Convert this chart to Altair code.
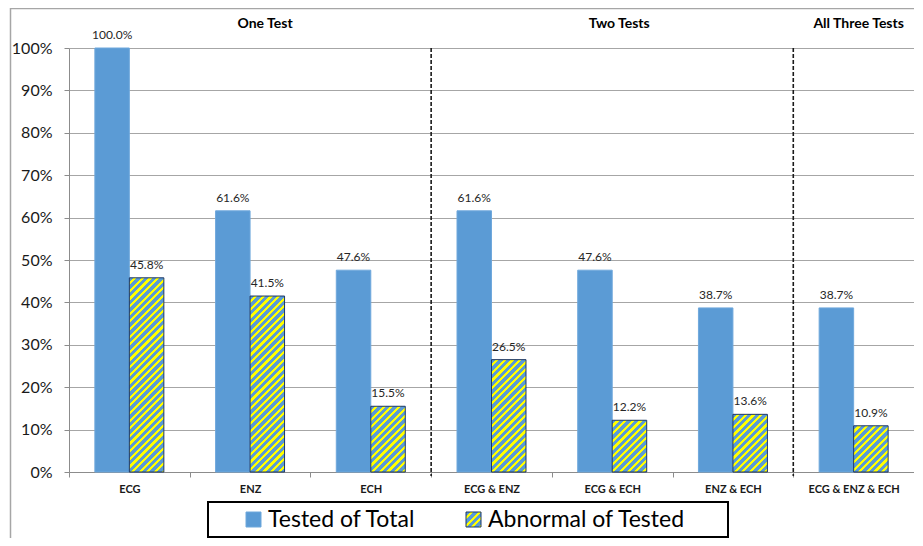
import math
import altair as alt
import pandas as pd

# ---------------- data ----------------
categories = ["ECG", "ENZ", "ECH", "ECG & ENZ", "ECG & ECH", "ENZ & ECH", "ECG & ENZ & ECH"]
tested_of_total = [100.0, 61.6, 47.6, 61.6, 47.6, 38.7, 38.7]
abnormal_of_tested = [45.8, 41.5, 15.5, 26.5, 12.2, 13.6, 10.9]
series_names = ["Tested of Total", "Abnormal of Tested"]
group_titles = ["One Test", "Two Tests", "All Three Tests"]
group_anchor = ["ENZ", "ECG & ECH", "ECG & ENZ & ECH"]
separator_before = ["ECG & ENZ", "ECG & ENZ & ECH"]
y_ticks = list(range(0, 101, 10))

# ---------------- style ----------------
BLUE = "#5B9BD5"
YELLOW = "#FFFF00"
FONT = "Lato"
PLOT_W, PLOT_H = 845, 424
OFFSET_PAD = 0.75
STEP = PLOT_W / len(categories)
BAR_W = STEP / (2 + 2 * OFFSET_PAD)

rows = []
for c, t, a in zip(categories, tested_of_total, abnormal_of_tested):
    rows.append({"cat": c, "series": series_names[0], "value": t})
    rows.append({"cat": c, "series": series_names[1], "value": a})
df = pd.DataFrame(rows)
legend_df = pd.DataFrame({"series": series_names})
groups_df = pd.DataFrame({"title": group_titles, "cat": group_anchor})
sep_df = pd.DataFrame({"cat": separator_before})


def hatch(W, H, period=5.4, frac_yellow=0.42):
    L = (W + H) / math.sqrt(2)
    a = (W + H) / (W * W + H * H)
    stops = []
    n = int(math.ceil(L / period))
    for k in range(n):
        o0 = min(k * period / L, 1)
        o1 = min((k + 1 - frac_yellow) * period / L, 1)
        o2 = min((k + 1) * period / L, 1)
        stops += [(o0, BLUE), (o1, BLUE), (o1, YELLOW), (o2, YELLOW)]
    return alt.LinearGradient(
        gradient="linear",
        stops=[alt.GradientStop(offset=o, color=c) for o, c in stops],
        x1=0, y1=0, x2=a * W, y2=a * H,
    )


x_scale = alt.Scale(domain=categories, paddingInner=0, paddingOuter=0)
x_axis = alt.Axis(
    title=None, labelAngle=0, labelFont=FONT, labelFontWeight="bold", labelFontSize=11,
    labelColor="#1a1a1a", tickBand="extent", tickSize=5, labelPadding=6,
    domainColor="#8c8c8c", tickColor="#8c8c8c", grid=False,
)
y_scale = alt.Scale(domain=[0, 100], nice=False)
y_axis = alt.Axis(
    title=None, values=y_ticks, labelExpr="datum.value + '%'", labelFont=FONT,
    labelFontSize=16, labelColor="#1a1a1a", tickSize=5, labelPadding=12,
    domainColor="#8c8c8c", tickColor="#8c8c8c", grid=True, gridColor="#A6A6A6",
)


def X(**kw):
    return alt.X("cat:N", scale=x_scale, axis=x_axis, **kw)


def Y():
    return alt.Y("value:Q", scale=y_scale, axis=y_axis)


xoff = alt.XOffset("series:N", scale=alt.Scale(domain=series_names, paddingInner=0, paddingOuter=OFFSET_PAD))

base = alt.Chart(df)

border = alt.Chart(legend_df).transform_filter(alt.datum.series == series_names[0]).mark_rect(
    filled=False, stroke="#A6A6A6", strokeWidth=1.5
).encode(x=alt.value(-58.5), x2=alt.value(PLOT_W + 60), y=alt.value(-39.5), y2=alt.value(PLOT_H + 120))

blue_bars = base.transform_filter(alt.datum.series == series_names[0]).mark_bar(
    fill=BLUE, stroke="#6FA8DC", strokeWidth=1
).encode(x=X(), xOffset=xoff, y=Y())

hatched_layers = []
for c, v in zip(categories, abnormal_of_tested):
    H = v / 100 * PLOT_H
    hatched_layers.append(
        base.transform_filter((alt.datum.series == series_names[1]) & (alt.datum.cat == c))
        .mark_bar(fill=hatch(BAR_W, H), stroke="#1F3864", strokeWidth=1)
        .encode(x=X(), xOffset=xoff, y=Y())
    )

labels = base.transform_calculate(
    label="format(datum.value, '.1f') + '%'"
).mark_text(font=FONT, fontSize=12, color="#262626", baseline="alphabetic", dy=-9).encode(
    x=X(), xOffset=xoff, y=Y(), text="label:N"
)

separators = alt.Chart(sep_df).mark_rule(
    color="#1a1a1a", strokeWidth=1.6, strokeDash=[4, 2]
).encode(x=X(bandPosition=0), y=alt.value(0), y2=alt.value(PLOT_H + 4))

title_dx = [15, 7, 5]
title_layers = []
for t, d in zip(group_titles, title_dx):
    title_layers.append(
        alt.Chart(groups_df).transform_filter(alt.datum.title == t)
        .mark_text(font=FONT, fontSize=14, fontWeight="bold", color="black", baseline="middle", dx=d)
        .encode(x=X(), y=alt.value(-24), text="title:N")
    )

leg = alt.Chart(legend_df)
leg_box = leg.transform_filter(alt.datum.series == series_names[0]).mark_rect(
    filled=False, stroke="black", strokeWidth=2
).encode(x=alt.value(139), x2=alt.value(659), y=alt.value(454), y2=alt.value(489))
leg_sq1 = leg.transform_filter(alt.datum.series == series_names[0]).mark_rect(
    fill=BLUE, stroke="#6FA8DC", strokeWidth=1
).encode(x=alt.value(177), x2=alt.value(192), y=alt.value(464), y2=alt.value(479))
leg_sq2 = leg.transform_filter(alt.datum.series == series_names[1]).mark_rect(
    fill=hatch(15, 15), stroke="#1F3864", strokeWidth=1
).encode(x=alt.value(397), x2=alt.value(412), y=alt.value(464), y2=alt.value(479))
leg_t1 = leg.transform_filter(alt.datum.series == series_names[0]).mark_text(
    font=FONT, fontSize=23, color="black", align="left", baseline="middle"
).encode(x=alt.value(199), y=alt.value(472), text="series:N")
leg_t2 = leg.transform_filter(alt.datum.series == series_names[1]).mark_text(
    font=FONT, fontSize=23, color="black", align="left", baseline="middle"
).encode(x=alt.value(419), y=alt.value(472), text="series:N")

chart = alt.layer(
    border, blue_bars, *hatched_layers, labels, separators, *title_layers,
    leg_box, leg_sq1, leg_sq2, leg_t1, leg_t2,
).properties(
    width=PLOT_W, height=PLOT_H,
    autosize=alt.AutoSizeParams(type="none"),
    padding={"left": 61, "top": 40, "right": 0, "bottom": 66},
    background="white",
).configure_view(strokeWidth=0)

chart.save("out.html", embed_options={"renderer": "svg", "actions": False})
